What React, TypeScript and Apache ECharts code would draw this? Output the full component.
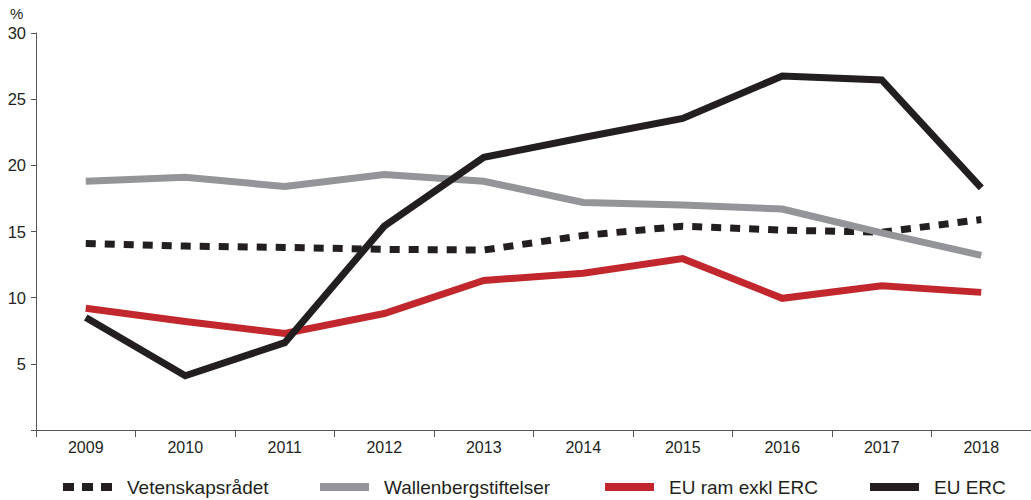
import React, { useEffect, useRef } from "react";
import * as echarts from "echarts";

const years = ["2009", "2010", "2011", "2012", "2013", "2014", "2015", "2016", "2017", "2018"];
const vetenskapsradet = [14.1, 13.9, 13.8, 13.65, 13.6, 14.7, 15.4, 15.1, 14.95, 15.9];
const wallenberg = [18.8, 19.1, 18.4, 19.3, 18.8, 17.2, 17.0, 16.7, 14.9, 13.2];
const euRam = [9.2, 8.2, 7.3, 8.8, 11.3, 11.85, 12.95, 9.95, 10.9, 10.4];
const euErc = [8.5, 4.1, 6.6, 15.4, 20.6, 22.1, 23.55, 26.75, 26.45, 18.3];
const seriesNames = ["Vetenskapsrådet", "Wallenbergstiftelser", "EU ram exkl ERC", "EU ERC"];
const yTicks = { min: 0, max: 30, interval: 5 };

const FONT = "'Liberation Sans', Arial, Helvetica, sans-serif";
const TXT = "#231f20";

export default function App() {
  const ref = useRef<HTMLDivElement>(null);
  useEffect(() => {
    if (!ref.current) return;
    const chart = echarts.init(ref.current, undefined, { renderer: "svg" });
    const colors = ["#231f20", "#939598", "#c1272d", "#231f20"];
    const dataSets = [vetenskapsradet, wallenberg, euRam, euErc];
    const legendLeft = [63, 320, 605, 870];
    const icons = [
      "path://M0,0h11v8h-11z M19,0h11v8h-11z M38,0h11v8h-11z",
      "path://M0,0h50v8h-50z",
      "path://M0,0h50v8h-50z",
      "path://M0,0h50v8h-50z",
    ];
    chart.setOption({
      animation: false,
      grid: { left: 36, right: -7, top: 33, bottom: 70, containLabel: false },
      xAxis: {
        type: "category",
        data: years,
        boundaryGap: true,
        axisLine: { lineStyle: { color: "#555", width: 1 } },
        axisTick: { show: true, length: 7, alignWithLabel: false, lineStyle: { color: "#555" } },
        axisLabel: { color: TXT, fontSize: 16, fontFamily: FONT, margin: 9 },
        splitLine: { show: false },
      },
      yAxis: {
        type: "value",
        min: yTicks.min,
        max: yTicks.max,
        interval: yTicks.interval,
        axisLine: { show: true, lineStyle: { color: "#555", width: 1 } },
        axisTick: { show: true, length: 5, lineStyle: { color: "#555" } },
        axisLabel: {
          color: TXT,
          fontSize: 16.5,
          fontFamily: FONT,
          margin: 10,
          formatter: (v: number) => (v === 0 ? "" : String(v)),
        },
        splitLine: { show: false },
      },
      legend: seriesNames.map((n, i) => ({
        data: [{ name: n, icon: icons[i] }],
        left: legendLeft[i],
        top: 477,
        padding: 0,
        itemWidth: 49,
        itemHeight: 8,
        symbolKeepAspect: false,
        itemStyle: { borderWidth: 0 },
        textStyle: { color: TXT, fontSize: 19, fontFamily: FONT, padding: [0, 0, 0, 10], lineHeight: 20 },
        selectedMode: false,
      })),
      graphic: [
        {
          type: "text",
          left: 10,
          top: 6,
          style: { text: "%", fill: TXT, fontSize: 15, fontFamily: FONT },
        },
      ],
      series: seriesNames.map((n, i) => ({
        name: n,
        type: "line",
        data: dataSets[i],
        showSymbol: false,
        symbol: "none",
        color: colors[i],
        itemStyle: { color: colors[i] },
        lineStyle: {
          color: colors[i],
          width: 7,
          type: i === 0 ? [10, 9] : "solid",
          cap: "butt",
          join: "miter",
        },
        z: i === 3 ? 5 : 2 + i,
      })),
    });
    return () => chart.dispose();
  }, []);
  return (
    <div
      ref={ref}
      style={{ position: "absolute", left: 0, top: 0, width: 1031, height: 500, background: "#fff" }}
    />
  );
}
